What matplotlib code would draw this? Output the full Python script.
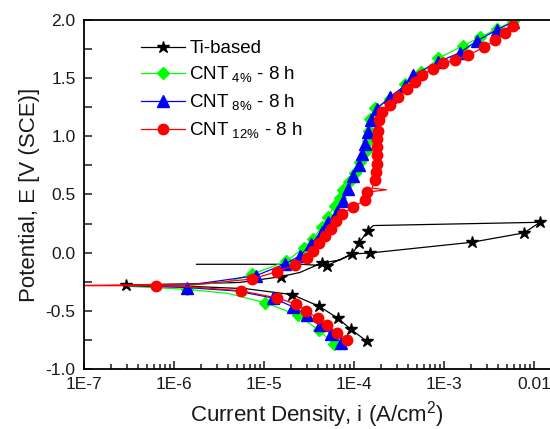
import matplotlib
matplotlib.use("Agg")
import matplotlib.pyplot as plt
import numpy as np
from matplotlib.ticker import FixedLocator, FixedFormatter, MultipleLocator, LogLocator, NullFormatter

plt.rcParams['font.family'] = ['Liberation Sans', 'DejaVu Sans']
plt.rcParams['mathtext.fontset'] = 'custom'
plt.rcParams['mathtext.rm'] = 'Liberation Sans'

# log10 of current density (A/cm2) and potential (V vs SCE)
ti_logi = [-3.86, -4.035, -4.179, -4.385, -4.685, -5.2, -5.8, -6.53,
           -5.8, -5.27, -4.815, -4.6, -4.36, -4.156, -4.019, -3.822, -2.693, -2.111, -1.933,
           -3.785, -3.848, -3.941, -4.019, -4.303, -4.6, -5.75]
ti_e = [-0.76, -0.659, -0.564, -0.462, -0.361, -0.31, -0.29, -0.277,
        -0.268, -0.256, -0.207, -0.17, -0.089, -0.063, -0.011, -0.003, 0.089, 0.17, 0.261,
        0.233, 0.19, 0.084, -0.011, -0.112, -0.1, -0.1]
ti_marks = [0, 1, 2, 3, 4, 7, 10, 12, 14, 15, 16, 17, 18, 20, 21, 23]

cnt4_logi = [-4.218, -4.393, -4.619, -4.99, -5.4, -5.86, -6.5,
             -5.8, -5.4, -5.13, -4.75, -4.56, -4.45, -4.36, -4.29, -4.21, -4.16, -4.12, -4.05,
             -3.99, -3.93, -3.86, -3.84, -3.83, -3.82, -3.77, -3.6, -3.43, -3.25, -3.063,
             -2.79, -2.6, -2.415, -2.23]
cnt4_e = [-0.789, -0.665, -0.538, -0.43, -0.35, -0.315, -0.29,
          -0.28, -0.25, -0.185, -0.075, 0.04, 0.12, 0.22, 0.31, 0.405, 0.47, 0.54, 0.61,
          0.684, 0.78, 0.88, 0.96, 1.05, 1.153, 1.24, 1.32, 1.446, 1.55, 1.67,
          1.778, 1.85, 1.922, 1.99]
cnt4_marks = [0, 1, 2, 3, 5] + list(range(9, 34))

cnt8_logi = [-4.14, -4.25, -4.38, -4.52, -4.68, -4.9, -5.3, -5.85, -6.5,
             -5.8, -5.09, -4.767, -4.6, -4.478, -4.36, -4.285, -4.193, -4.119, -4.063,
             -4.008, -3.941, -3.915, -3.878, -3.848, -3.811, -3.741, -3.6, -3.433, -3.341,
             -3.063, -2.822, -2.637, -2.415, -2.23]
cnt8_e = [-0.773, -0.70, -0.625, -0.54, -0.465, -0.39, -0.33, -0.30, -0.285,
          -0.275, -0.198, -0.098, -0.026, 0.075, 0.175, 0.26, 0.348, 0.448, 0.549,
          0.655, 0.75, 0.851, 0.937, 1.037, 1.138, 1.239, 1.34, 1.434, 1.526,
          1.64, 1.72, 1.819, 1.914, 1.985]
cnt8_marks = [0, 1, 2, 3, 4, 5, 7] + list(range(10, 34))

cnt12_logi = [-4.074, -4.19, -4.296, -4.405, -4.529, -4.646, -4.852, -5.26, -5.8, -6.2, -7.3,
              -5.7, -5.137, -4.859, -4.656, -4.526, -4.46, -4.386, -4.322, -4.259, -4.2,
              -4.137, -4.01, -3.878, -3.859, -3.64, -3.80, -3.767, -3.756, -3.748, -3.748,
              -3.74, -3.74, -3.73, -3.722, -3.692, -3.6, -3.507, -3.415, -3.322, -3.248,
              -3.118, -3.007, -2.878, -2.73, -2.556, -2.433, -2.322, -2.237]
cnt12_e = [-0.751, -0.688, -0.624, -0.566, -0.50, -0.442, -0.39, -0.327, -0.295, -0.284, -0.284,
           -0.27, -0.227, -0.164, -0.106, -0.046, 0.017, 0.08, 0.147, 0.204, 0.27,
           0.333, 0.39, 0.454, 0.52, 0.54, 0.555, 0.621, 0.692, 0.765, 0.836,
           0.908, 0.98, 1.05, 1.138, 1.21, 1.273, 1.34, 1.41, 1.468, 1.526,
           1.583, 1.627, 1.655, 1.698, 1.765, 1.828, 1.885, 1.95]
cnt12_marks = [0, 1, 2, 3, 4, 5, 6, 7, 9] + list(range(12, 25)) + list(range(27, 49))

labels = ['Ti-based', r'CNT$_{\ 4\%}$ - 8 h', r'CNT$_{\ 8\%}$ - 8 h', r'CNT$_{\ 12\%}$ - 8 h']
xtick_vals = [1e-7, 1e-6, 1e-5, 1e-4, 1e-3, 1e-2]
xtick_text = ['1E-7', '1E-6', '1E-5', '1E-4', '1E-3', '0.01']

fig = plt.figure(figsize=(5.5, 4.29), dpi=100)
ax = fig.add_axes([0.1527, 0.1399, 0.8473, 0.8135])

ax.plot(10 ** np.array(ti_logi), ti_e, color='black', lw=0.9, marker='*', ms=9,
        markevery=ti_marks, label=labels[0])
ax.plot(10 ** np.array(cnt4_logi), cnt4_e, color='#00ff00', lw=0.9, marker='D', ms=6,
        markevery=cnt4_marks, label=labels[1])
ax.plot(10 ** np.array(cnt8_logi), cnt8_e, color='#0000ff', lw=0.9, marker='^', ms=8,
        markevery=cnt8_marks, label=labels[2])
ax.plot(10 ** np.array(cnt12_logi), cnt12_e, color='#ff0000', lw=0.9, marker='o', ms=7.5,
        markevery=cnt12_marks, label=labels[3])

ax.set_xscale('log')
ax.set_xlim(1e-7, 10 ** -1.822)
ax.set_ylim(-1.0, 2.0)
ax.xaxis.set_major_locator(FixedLocator(xtick_vals))
ax.xaxis.set_major_formatter(FixedFormatter(xtick_text))
ax.xaxis.set_minor_locator(LogLocator(base=10, subs=np.arange(2, 10), numticks=20))
ax.xaxis.set_minor_formatter(NullFormatter())
ax.yaxis.set_major_locator(MultipleLocator(0.5))
ax.yaxis.set_minor_locator(MultipleLocator(0.25))
ax.yaxis.set_major_formatter(plt.FuncFormatter(lambda v, p: '%.1f' % v))

ax.spines['right'].set_visible(False)
for s in ['left', 'bottom', 'top']:
    ax.spines[s].set_linewidth(1.3)
ax.tick_params(which='both', direction='in', top=False, right=False, width=1.1,
               labelsize=12.5, colors='#1a1a1a', pad=6)
ax.tick_params(which='major', length=6)
ax.tick_params(axis='x', which='minor', length=3.5)
ax.tick_params(axis='y', which='minor', length=6)

ax.set_xlabel(r'Current Density, i (A/cm$^2$)', fontsize=16, color='#1a1a1a', labelpad=5)
ax.set_ylabel('Potential, E [V (SCE)]', fontsize=16, color='#1a1a1a', labelpad=4)

ax.legend(loc='upper left', bbox_to_anchor=(0.095, 0.98), frameon=False, fontsize=13.5,
          handlelength=2.3, handletextpad=0.25, labelspacing=0.4, borderpad=0.2)

fig.savefig('out.png', dpi=100)
